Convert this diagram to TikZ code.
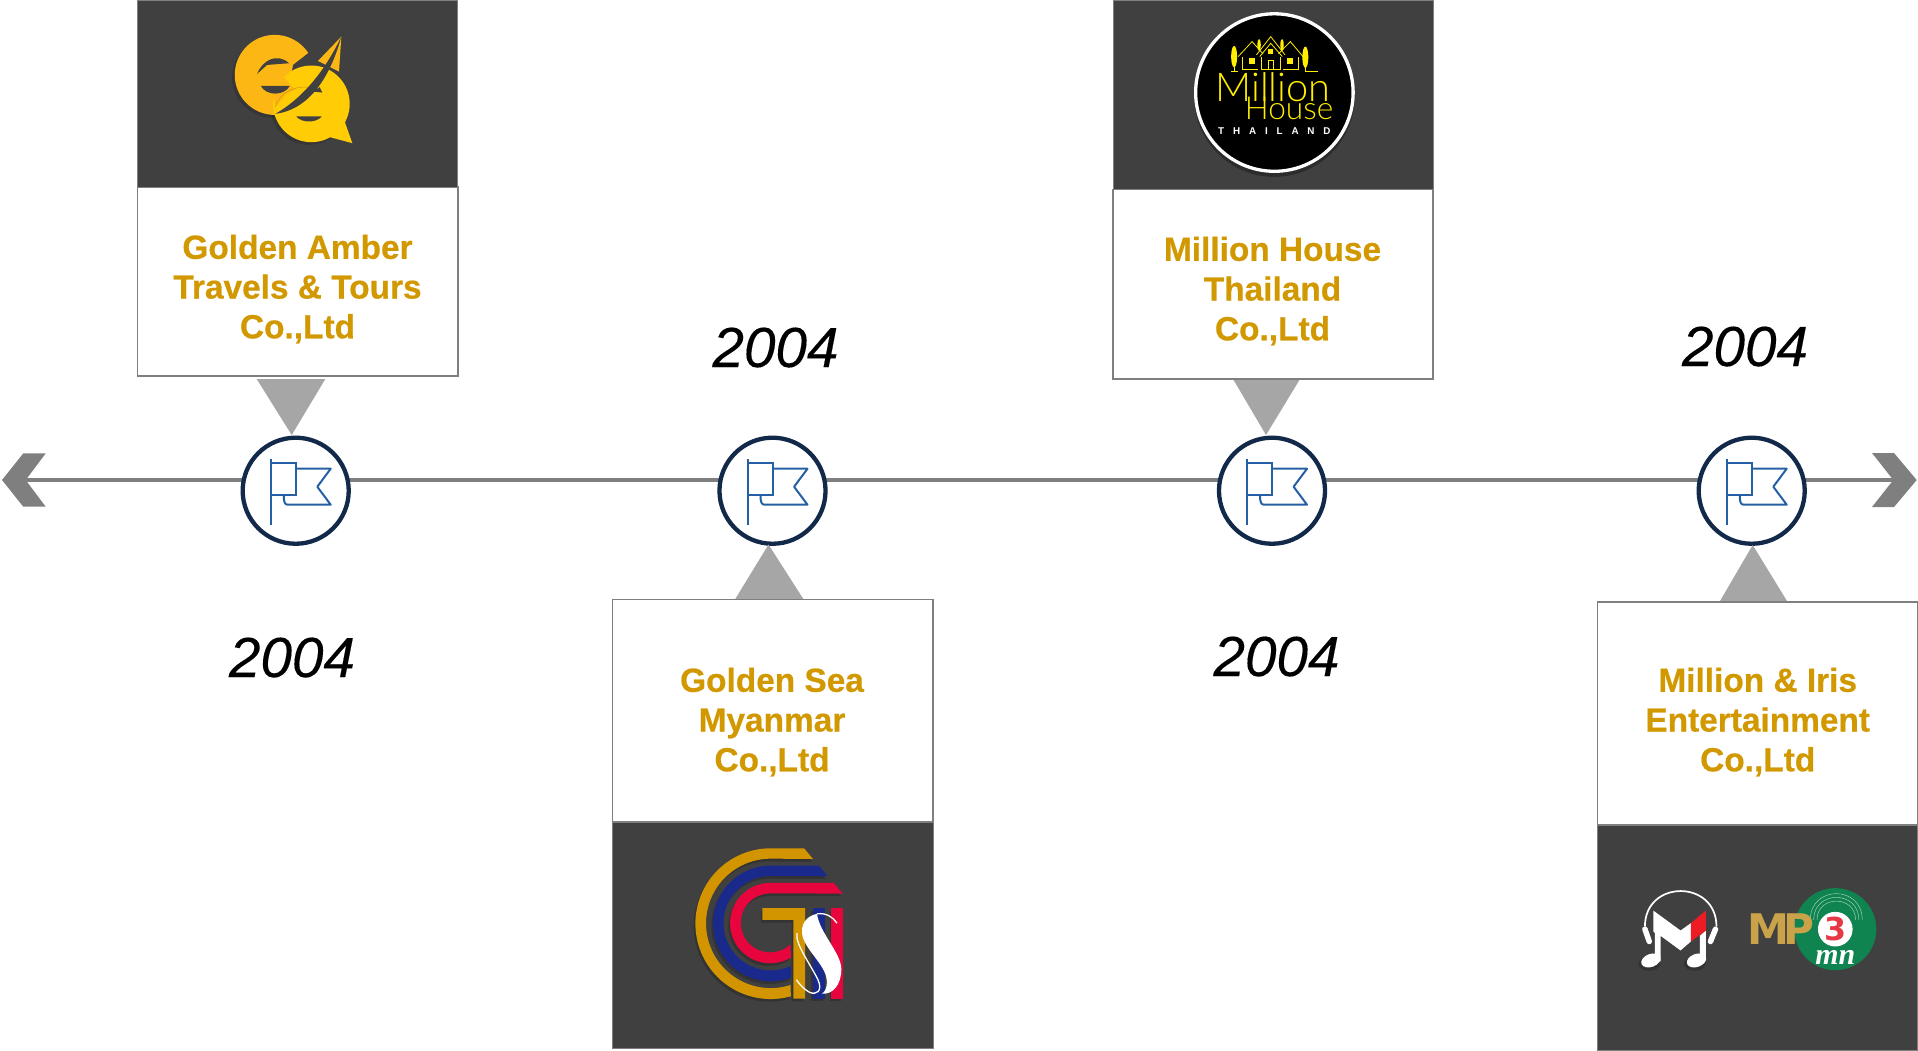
\documentclass[tikz,border=0pt]{standalone}
\usepackage{fontspec}
\setmainfont{Liberation Sans}
\setsansfont{Liberation Sans}
\newfontfamily\serifmn{Liberation Serif}
\newfontfamily\titlefont[BoldFeatures={FakeBold=0.5}]{Liberation Sans}
\newfontfamily\yearfont[ItalicFeatures={FakeBold=0.2}]{Liberation Sans}
\newfontfamily\mpfont{DejaVu Sans}
\newfontfamily\mhthin{Lato Light}
\usepackage{xcolor}
\usepackage{tikz}
\usetikzlibrary{positioning}
\definecolor{panelgrey}{HTML}{404040}
\definecolor{edgegrey}{HTML}{7F7F7F}
\definecolor{pointgrey}{HTML}{A6A6A6}
\definecolor{titlegold}{HTML}{D29800}
\definecolor{stopnavy}{HTML}{12294A}
\definecolor{flagblue}{HTML}{2660A4}
\definecolor{gqamber}{HTML}{FDB714}
\definecolor{gqyellow}{HTML}{FFCC05}
\definecolor{gtsgold}{HTML}{D29500}
\definecolor{gtsblue}{HTML}{1A2A8C}
\definecolor{gtsred}{HTML}{E8043C}
\definecolor{mhyellow}{HTML}{FFEE00}
\definecolor{mpgold}{HTML}{C9A24A}
\definecolor{mpgreen}{HTML}{0F8451}
\definecolor{mpred}{HTML}{E63946}
\definecolor{mred}{HTML}{ED1C24}

% three bars of the GTS mark
\newcommand{\gtsbars}[3]{
    \fill[#1] (583,115) -- (483,115) arc[start angle=90, end angle=285.4, radius=0.7533cm] -- (543,525.5) arc[start angle=288, end angle=90, radius=0.6467cm] -- (610,147) -- cycle;
    \fill[#2] (627,167) -- (483.5,167) arc[start angle=90, end angle=290.2, radius=0.5783cm] -- (543,468.6) arc[start angle=295.1, end angle=90, radius=0.4717cm] -- (654,199) -- cycle;
    \fill[#3] (672,219) -- (481.5,219) arc[start angle=90, end angle=300.7, radius=0.4017cm] -- (543,403) arc[start angle=314, end angle=90, radius=0.295cm] -- (699,251) -- cycle;
    \fill[#1] (458,295) -- (586,295) -- (586,567) -- (551,567) -- (551,330) -- (458,330) -- cycle;
    \fill[#2] (610,295) rectangle (645,567);
    \fill[#3] (665,295) rectangle (700,567);
}

\tikzset{
    flagicon/.pic={
        \draw[flagblue, line width=0.02cm] (-25,-31.4) -- (-25,34.3);
        \draw[flagblue, line width=0.02cm] (-25,-27.4) -- (0,-27.4) -- (0,4.6) -- (-25,4.6);
        \draw[flagblue, line width=0.02cm, line join=round] (0,-22) -- (35,-22) -- (21.6,-4) -- (35,14) -- (-8,14) .. controls (-11,14) and (-12,11) .. (-12,4.6);
    }
}

\begin{document}
\begin{tikzpicture}[
    x=0.01cm, y=-0.01cm,
    font=\sffamily,
    infobox/.style={rectangle, draw=edgegrey, fill=white, line width=0.017cm, minimum width=3.2cm, inner sep=0pt, outer sep=0pt},
    panel/.style={rectangle, draw=edgegrey, fill=panelgrey, line width=0.006cm, minimum width=3.2cm, inner sep=0pt, outer sep=0pt},
    boxtitle/.style={align=center, text=titlegold, inner sep=0pt, font=\titlefont\bfseries\fontsize{9.5}{11.3}\selectfont},
    yearlabel/.style={inner sep=0pt, font=\yearfont\itshape\fontsize{16.1}{18}\selectfont},
    stopmark/.style={circle, draw=stopnavy, fill=white, line width=0.043cm, minimum size=1.06cm, inner sep=0pt},
    pointer/.style={fill=pointgrey},
    chevron/.style={fill=edgegrey},
    timeaxis/.style={draw=edgegrey, line width=0.04cm},
    zoomed/.style={x=0.003333cm, y=-0.003333cm}
]
    \useasboundingbox (0,0) rectangle (1918,1050);

    % Axis with its two chevrons
    \coordinate (axisleft) at (26,480);
    \coordinate (axisright) at (1893,480);
    \draw[timeaxis] (axisleft) -- (axisright);
    \fill[chevron] (2,480) -- (23.3,453.3) -- (45.7,453.3) -- (25.7,480) -- (45.7,506.7) -- (23.3,506.7) -- cycle;
    \fill[chevron] (1916.7,480) -- (1894,453) -- (1872,453) -- (1893.3,480) -- (1872,507) -- (1894,507) -- cycle;

    % Stops on the axis
    \node[stopmark] (stopa) at (295.7,490.7) {};
    \node[stopmark] (stopb) at (772.5,490.7) {};
    \node[stopmark] (stopc) at (1272,490.7) {};
    \node[stopmark] (stopd) at (1751.7,490.7) {};
    \pic at (stopa) {flagicon};
    \pic at (stopb) {flagicon};
    \pic at (stopc) {flagicon};
    \pic at (stopd) {flagicon};

    % Pointers
    \fill[pointer] (256.7,379) -- (325.3,379) -- (291.7,435) -- cycle;
    \fill[pointer] (735,599.4) -- (803.6,599.4) -- (768.5,544.5) -- cycle;
    \fill[pointer] (1233,379) -- (1300,379) -- (1266,435) -- cycle;
    \fill[pointer] (1720,601) -- (1787,601) -- (1752.7,545) -- cycle;

    % Boxes and their dark panels
    \node[infobox, minimum height=1.884cm] (boxa) at (297.7,281.5) {};
    \node[panel, minimum height=1.873cm, above=0cm of boxa] (panela) {};
    \node[infobox, minimum height=2.226cm] (boxb) at (772.7,710.7) {};
    \node[panel, minimum height=2.26cm, below=0cm of boxb] (panelb) {};
    \node[infobox, minimum height=1.894cm] (boxc) at (1273.2,284.3) {};
    \node[panel, minimum height=1.896cm, above=0cm of boxc] (panelc) {};
    \node[infobox, minimum height=2.232cm] (boxd) at (1757.6,713.4) {};
    \node[panel, minimum height=2.25cm, below=0cm of boxd] (paneld) {};

    % Company names
    \node[boxtitle] (titlea) at (297.5,289) {Golden Amber\\Travels \& Tours\\Co.,Ltd};
    \node[boxtitle] (titleb) at (772,722) {Golden Sea\\Myanmar\\Co.,Ltd};
    \node[boxtitle] (titlec) at (1272.5,291) {Million House\\Thailand\\Co.,Ltd};
    \node[boxtitle] (titled) at (1757.7,722) {Million \& Iris\\Entertainment\\Co.,Ltd};

    % Years
    \node[yearlabel] (yeara) at (292,657.5) {2004};
    \node[yearlabel] (yearb) at (775.5,347.5) {2004};
    \node[yearlabel] (yearc) at (1276.5,656.5) {2004};
    \node[yearlabel] (yeard) at (1745,346.5) {2004};

    % GQ mark
    \begin{scope}[shift={(130,0)}, zoomed]
        \fill[black, opacity=0.15] (427,233) circle[radius=0.4cm];
        \fill[black, opacity=0.15] (537,320) circle[radius=0.383cm];
        \fill[gqamber] (435,225) circle[radius=0.4cm];
        \fill[panelgrey] (535,160) -- (490,195) -- (480,250) -- (570,260) -- (580,150) -- cycle;
        \fill[gqamber] (635,110) -- (565,183) -- (628,215) -- cycle;
        \fill[gqyellow] (545,312) circle[radius=0.383cm];
        \fill[gqyellow] (645,365) -- (668,430) -- (600,412) -- cycle;
        \fill[gqamber] (455,225) -- (497,270) -- (470,282) -- (437,322) -- (425,250) -- cycle;
        \fill[panelgrey] (382,222) .. controls (395,185) and (440,155) .. (478,190) -- (412,195) -- cycle;
        \fill[panelgrey] (393,258) -- (480,258) .. controls (465,288) and (410,290) .. (393,258) -- cycle;
        \draw[gqamber!80!black, line width=0.004cm] (437,322) .. controls (445,280) and (510,240) .. (572,275);
        \fill[panelgrey] (635,110) .. controls (605,220) and (545,328) .. (437,342) .. controls (510,300) and (580,225) .. (635,110) -- cycle;
        \fill[panelgrey] (548,275) -- (578,278) -- (570,262) -- cycle;
        \fill[panelgrey] (500,350) -- (576,350) .. controls (560,370) and (515,370) .. (500,350) -- cycle;
    \end{scope}

    % Million House mark
    \begin{scope}[shift={(1100,0)}, zoomed]
        \fill[black, opacity=0.3] (524,290) circle[radius=0.803cm];
        \draw[white, fill=black, line width=0.033cm] (524,278) circle[radius=0.787cm];
        \begin{scope}[draw=mhyellow, line width=0.008cm]
            \draw (470,165) -- (513,110) -- (556,165);
            \draw (480,170) -- (513,130) -- (548,170);
            \draw (484,172) -- (484,208) -- (542,208) -- (542,172);
            \draw (415,170) -- (457,125) -- (490,162);
            \draw (428,172) -- (428,208) -- (475,208);
            \draw (536,162) -- (572,125) -- (610,170);
            \draw (597,172) -- (597,208) -- (550,208);
            \draw (403,195) -- (403,213);
            \draw (393,213) -- (415,213);
            \draw (617,195) -- (617,213) -- (655,213);
            \draw (505,208) -- (505,180) -- (521,180) -- (521,208);
        \end{scope}
        \fill[mhyellow] (403,170) ellipse[x radius=0.03cm, y radius=0.107cm];
        \fill[mhyellow] (617,172) ellipse[x radius=0.03cm, y radius=0.107cm];
        \fill[mhyellow] (478,135) ellipse[x radius=0.017cm, y radius=0.06cm];
        \fill[mhyellow] (547,135) ellipse[x radius=0.017cm, y radius=0.06cm];
        \fill[mhyellow] (447,175) rectangle (465,192);
        \fill[mhyellow] (563,175) rectangle (581,192);
        \fill[mhyellow] (505,148) rectangle (521,162);
        \node[text=mhyellow, inner sep=0pt, font=\mhthin\fontsize{11.3}{12}\selectfont] (mhmillion) at (520,262) {Million};
        \node[text=mhyellow, inner sep=0pt, font=\mhthin\fontsize{9}{10}\selectfont] (mhhouse) at (568,325) {House};
        \node[text=white, inner sep=0pt, font=\bfseries\addfontfeature{LetterSpace=90}\fontsize{2.8}{3}\selectfont] (mhland) at (524,395) {THAILAND};
    \end{scope}

    % GTS mark
    \begin{scope}[shift={(610,810)}, zoomed]
        \begin{scope}[shift={(-5,8)}, opacity=0.2]
            \gtsbars{black}{black}{black}
        \end{scope}
        \gtsbars{gtsgold}{gtsblue}{gtsred}
        \fill[white] (622,312) .. controls (590,318) and (568,345) .. (580,385) .. controls (597,430) and (650,470) .. (652,515) .. controls (652,535) and (645,548) .. (636,552) .. controls (670,555) and (695,525) .. (695,478) .. controls (695,430) and (630,370) .. (622,312) -- cycle;
        \draw[white, line width=0.013cm] (622,312) .. controls (650,308) and (670,322) .. (682,340);
        \draw[white, line width=0.013cm] (562,370) .. controls (555,400) and (600,460) .. (625,510) .. controls (640,545) and (620,556) .. (600,548) .. controls (585,540) and (570,525) .. (560,510);
    \end{scope}

    % Music and MP3 marks
    \begin{scope}[shift={(1590,810)}, zoomed]
        \fill[black, opacity=0.2] (178,462) ellipse[x radius=0.11cm, y radius=0.07cm];
        \fill[black, opacity=0.2] (315,462) ellipse[x radius=0.11cm, y radius=0.07cm];
        \draw[white, line width=0.017cm] (165,350) .. controls (165,208) and (380,208) .. (380,350);
        \draw[white, line width=0.055cm, line cap=round] (165,358) -- (178,395);
        \draw[white, line width=0.055cm, line cap=round] (377,358) -- (362,395);
        \fill[white] (190,302) -- (272,362) -- (303,340) -- (303,395) -- (272,422) -- (212,378) -- (212,455) -- (195,455) -- (195,370) -- (190,365) -- cycle;
        \fill[white] (330,378) -- (348,362) -- (348,450) -- (330,450) -- cycle;
        \fill[mred] (303,340) -- (348,302) -- (348,362) -- (303,395) -- cycle;
        \fill[white, shift={(183,452)}, rotate=20] (0,0) ellipse[x radius=0.1cm, y radius=0.065cm];
        \fill[white, shift={(320,452)}, rotate=20] (0,0) ellipse[x radius=0.1cm, y radius=0.065cm];

        \fill[mpgreen] (737,358) circle[radius=0.41cm];
        \draw[white, opacity=0.7, line width=0.004cm] (662,330) .. controls (662,225) and (818,225) .. (818,330);
        \draw[white, opacity=0.7, line width=0.004cm] (672,330) .. controls (672,240) and (808,240) .. (808,330);
        \draw[white, opacity=0.7, line width=0.004cm] (682,330) .. controls (682,255) and (798,255) .. (798,330);
        \fill[white] (737,358) circle[radius=0.173cm];
        \node[anchor=base west, text=mpgold, inner sep=0pt, font=\mpfont\bfseries\fontsize{12}{13}\selectfont] (mptext) at (470,405) {M\kern-1.5pt P};
        \node[text=mpred, inner sep=0pt, font=\mpfont\bfseries\fontsize{9}{10}\selectfont] (mpthree) at (737,358) {3};
        \node[text=white, inner sep=0pt, font=\serifmn\bfseries\itshape\fontsize{8.5}{9}\selectfont] (mpmn) at (737,443) {mn};
    \end{scope}
\end{tikzpicture}
\end{document}
